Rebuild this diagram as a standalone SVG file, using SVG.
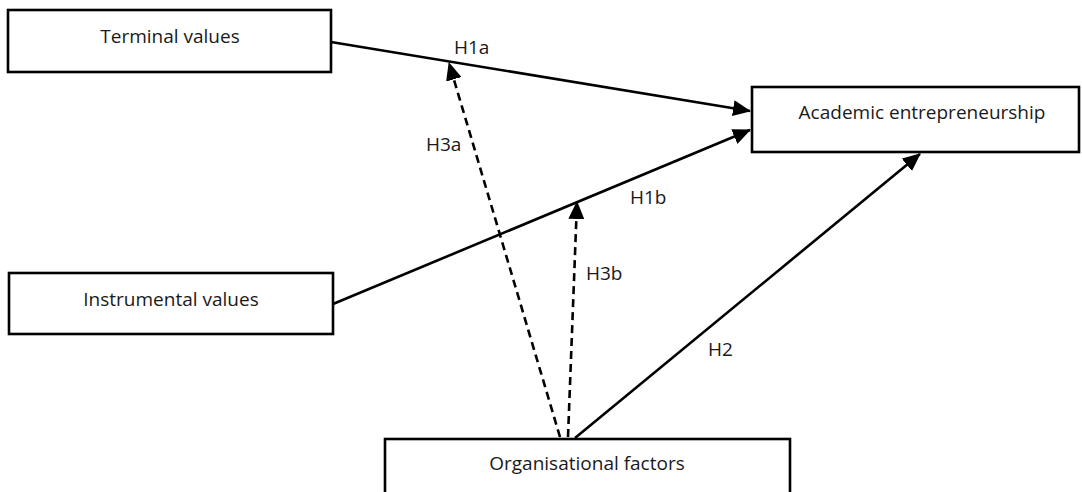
<svg xmlns="http://www.w3.org/2000/svg" width="1082" height="492" viewBox="0 0 1082 492">
<style>
.box{fill:#fff;stroke:#000;stroke-width:2.6}
.t{font-family:"Open Sans","DejaVu Sans",sans-serif;font-size:19px;fill:#1a1a1a;text-anchor:middle}
.lbl{font-family:"Open Sans","DejaVu Sans",sans-serif;font-size:19px;fill:#1a1a1a}
.ln{stroke:#000;stroke-width:2.6;fill:none}
.dash{stroke-dasharray:8,5}
</style>
<defs>
<marker id="ah" markerUnits="userSpaceOnUse" markerWidth="18" markerHeight="16" viewBox="0 0 18 16" refX="17" refY="8" orient="auto">
<path d="M0,0 L18,8 L0,16 Z" fill="#000"/>
</marker>
</defs>
<g id="connectors">
<line class="ln" x1="331" y1="42" x2="750" y2="111" marker-end="url(#ah)"/>
<line class="ln" x1="333" y1="304" x2="750" y2="130" marker-end="url(#ah)"/>
<line class="ln" x1="575" y1="438" x2="920" y2="154" marker-end="url(#ah)"/>
<line class="ln dash" x1="560" y1="437" x2="449" y2="63" marker-end="url(#ah)"/>
<line class="ln dash" x1="568" y1="437" x2="577" y2="202" marker-end="url(#ah)"/>
<text class="lbl" x="454" y="54">H1a</text>
<text class="lbl" x="426" y="151">H3a</text>
<text class="lbl" x="630" y="204">H1b</text>
<text class="lbl" x="586" y="280">H3b</text>
<text class="lbl" x="708" y="356">H2</text>
</g>
<g id="terminal">
<rect class="box" x="8" y="10" width="323" height="62"/>
<text class="t" x="170" y="43">Terminal values</text>
</g>
<g id="instrumental">
<rect class="box" x="9" y="273" width="324" height="61"/>
<text class="t" x="171" y="306">Instrumental values</text>
</g>
<g id="academic">
<rect class="box" x="752" y="87" width="327" height="65"/>
<text class="t" x="922" y="119">Academic entrepreneurship</text>
</g>
<g id="organisational">
<rect class="box" x="385" y="439" width="405" height="60"/>
<text class="t" x="587" y="470">Organisational factors</text>
</g>
</svg>
